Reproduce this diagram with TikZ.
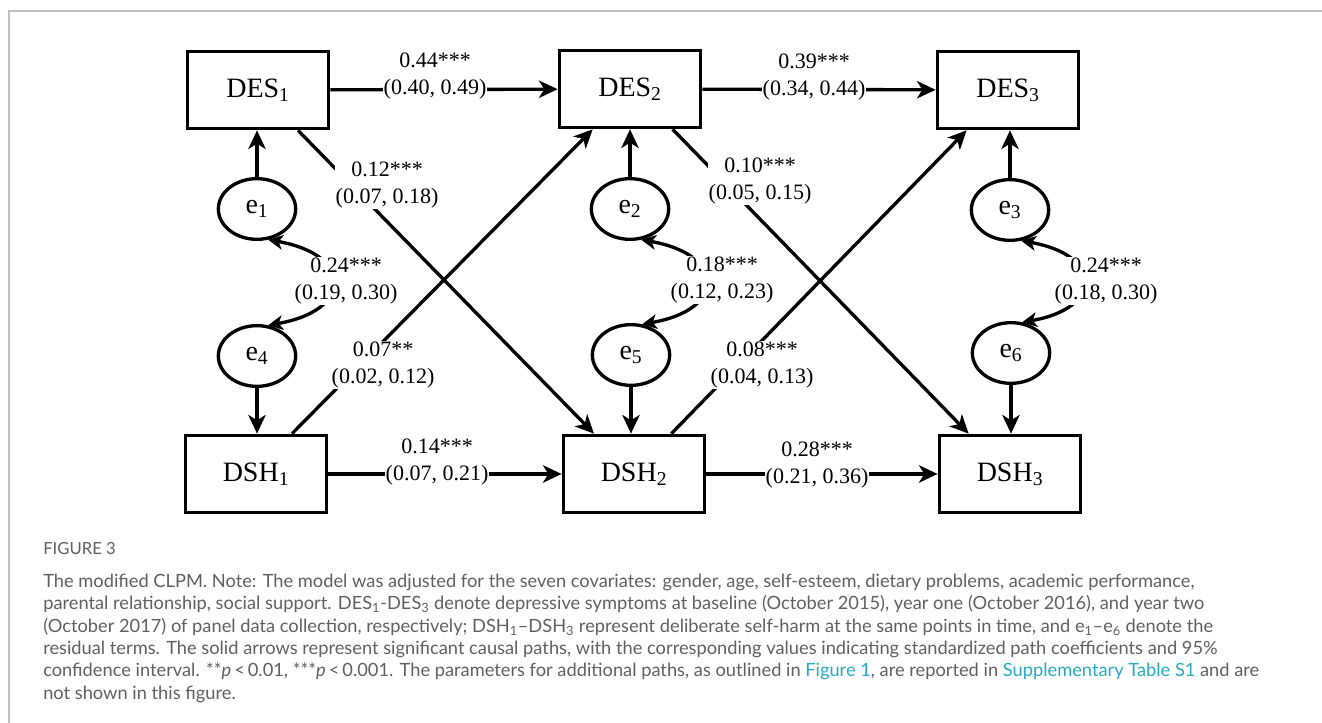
\documentclass[tikz,border=0pt]{standalone}
\usepackage{fontspec}
\setmainfont{Liberation Serif}
\newfontfamily\capfont{Lato}
\usepackage{tikz}
\usetikzlibrary{arrows.meta,shapes.geometric,positioning}
\definecolor{capgray}{RGB}{95,95,95}
\definecolor{linkteal}{RGB}{38,170,196}
\definecolor{framegray}{RGB}{190,190,190}

\begin{document}
\begin{tikzpicture}[x=0.75pt,y=-0.75pt]
  \tikzset{
    obs/.style={draw=black, line width=2.5pt, minimum width=106pt, minimum height=58pt, inner sep=0pt, font=\fontsize{21}{24}\selectfont},
    res/.style={draw=black, line width=2.5pt, ellipse, minimum width=58pt, minimum height=45.5pt, inner sep=0pt, font=\fontsize{21}{24}\selectfont},
    est/.style={fill=white, inner sep=0.6pt, align=center, font=\fontsize{16.5}{20.5}\selectfont},
    arr/.style={-{Stealth[length=14pt, width=13pt, inset=4pt]}, line width=2.5pt},
    cov/.style={{Stealth[length=11pt, width=11pt, inset=3pt]}-{Stealth[length=11pt, width=11pt, inset=3pt]}, line width=2.5pt},
    capfig/.style={inner sep=0pt, text=capgray, font=\capfont\fontsize{12.5}{14}\selectfont},
    captxt/.style={inner sep=0pt, align=left, text=capgray, font=\capfont\fontsize{13.7}{16.7}\selectfont}
  }
  \useasboundingbox (0,0) rectangle (1322,723);

  % - Frame ---
  \draw[framegray, line width=1.5pt] (1322,11) -- (9,11) -- (9,723);

  % - Observed variables ---
  \node[obs] (des1) at (258,90) {DES\textsubscript{1}};
  \node[obs] (des2) at (630,89) {DES\textsubscript{2}};
  \node[obs] (des3) at (1008,90) {DES\textsubscript{3}};
  \node[obs] (dsh1) at (256,474) {DSH\textsubscript{1}};
  \node[obs] (dsh2) at (634,474) {DSH\textsubscript{2}};
  \node[obs] (dsh3) at (1010,474) {DSH\textsubscript{3}};

  % - Residuals ---
  \node[res] (e1) at (257,209) {e\textsubscript{1}};
  \node[res] (e2) at (630,209) {e\textsubscript{2}};
  \node[res] (e3) at (1010,210) {e\textsubscript{3}};
  \node[res] (e4) at (257,356) {e\textsubscript{4}};
  \node[res] (e5) at (631,355) {e\textsubscript{5}};
  \node[res] (e6) at (1011,353) {e\textsubscript{6}};

  % - Autoregressive paths ---
  \draw[arr] (des1) -- (des2);
  \draw[arr] (des2) -- (des3);
  \draw[arr] (dsh1) -- (dsh2);
  \draw[arr] (dsh2) -- (dsh3);

  % - Cross-lagged paths ---
  \draw[arr] ([xshift=30pt]des1.south) -- ([xshift=-30pt]dsh2.north);
  \draw[arr] ([xshift=32pt]des2.south) -- ([xshift=-31pt]dsh3.north);
  \draw[arr] ([xshift=27pt]dsh1.north) -- ([xshift=-28pt]des2.south);
  \draw[arr] ([xshift=28pt]dsh2.north) -- ([xshift=-31pt]des3.south);

  % - Residual paths ---
  \draw[arr] (e1) -- (e1 |- des1.south);
  \draw[arr] (e2) -- (e2 |- des2.south);
  \draw[arr] (e3) -- (e3 |- des3.south);
  \draw[arr] (e4) -- (e4 |- dsh1.north);
  \draw[arr] (e5) -- (e5 |- dsh2.north);
  \draw[arr] (e6) -- (e6 |- dsh3.north);

  % - Residual covariances ---
  \draw[cov] (e1.-70) to[out=-10, in=10, looseness=2.6] (e4.70);
  \draw[cov] (e2.-70) to[out=-10, in=10, looseness=2.6] (e5.70);
  \draw[cov] (e3.-70) to[out=-10, in=10, looseness=2.6] (e6.70);

  % - Estimates ---
  \node[est] (b12) at (435,76) {0.44***\\(0.40, 0.49)};
  \node[est] (b23) at (814,77) {0.39***\\(0.34, 0.44)};
  \node[est] (g12) at (437,462) {0.14***\\(0.07, 0.21)};
  \node[est] (g23) at (817,465) {0.28***\\(0.21, 0.36)};
  \node[est] (x12) at (387,185) {0.12***\\(0.07, 0.18)};
  \node[est] (x23) at (760,181) {0.10***\\(0.05, 0.15)};
  \node[est] (y12) at (383,365) {0.07**\\(0.02, 0.12)};
  \node[est] (y23) at (762,365) {0.08***\\(0.04, 0.13)};
  \node[est] (r14) at (346,281) {0.24***\\(0.19, 0.30)};
  \node[est] (r25) at (722,280) {0.18***\\(0.12, 0.23)};
  \node[est] (r36) at (1106,281) {0.24***\\(0.18, 0.30)};

  % - Caption ---
  \node[capfig, anchor=north west] (fig) at (43,542) {FIGURE 3};
  \node[captxt, anchor=north west] (cap) at (43,574) {The modified CLPM. Note: The model was adjusted for the seven covariates: gender, age, self-esteem, dietary problems, academic performance,\\
    parental relationship, social support. DES\textsubscript{1}-DES\textsubscript{3} denote depressive symptoms at baseline (October 2015), year one (October 2016), and year two\\
    (October 2017) of panel data collection, respectively; DSH\textsubscript{1}–DSH\textsubscript{3} represent deliberate self-harm at the same points in time, and e\textsubscript{1}–e\textsubscript{6} denote the\\
    residual terms. The solid arrows represent significant causal paths, with the corresponding values indicating standardized path coefficients and 95\%\\
    confidence interval. **\textit{p}\,<\,0.01, ***\textit{p}\,<\,0.001. The parameters for additional paths, as outlined in \textcolor{linkteal}{Figure 1}, are reported in \textcolor{linkteal}{Supplementary Table S1} and are\\
    not shown in this figure.};

\end{tikzpicture}
\end{document}
